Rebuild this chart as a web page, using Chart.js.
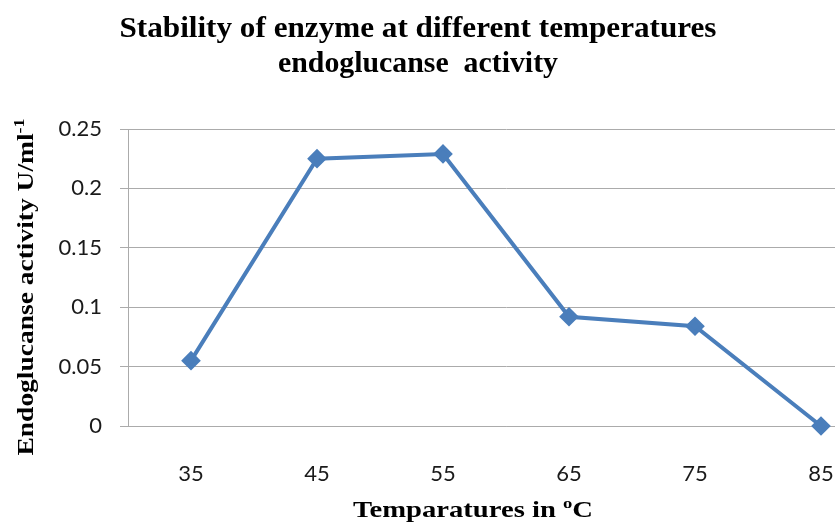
<!DOCTYPE html>
<html>
<head>
<meta charset="utf-8">
<script src="https://cdn.jsdelivr.net/npm/chart.js@4"></script>
<style>
    html, body { margin: 0; padding: 0; background: #fff; overflow: hidden; }
    #wrap { width: 835px; height: 522px; overflow: hidden; position: relative; }
    canvas { display: block; }
</style>
</head>
<body>
<div id="wrap"><canvas id="chart" width="900" height="522" style="width:900px;height:522px"></canvas></div>
<script>
// data
const temperatures = ['35', '45', '55', '65', '75', '85'];
const activity = [0.055, 0.225, 0.229, 0.092, 0.084, 0.0];
const yTicks = [0, 0.05, 0.1, 0.15, 0.2, 0.25];

const titleLines = ['Stability of enzyme at different temperatures', 'endoglucanse  activity'];
const yLabel = [{ t: 'Endoglucanse activity U/ml' }, { t: '-1', sup: true }];
const xLabel = [{ t: 'Temparatures in ' }, { t: 'o', sup: true }, { t: 'C' }];

const lineBlue = '#4A7EBB';
const gridGray = '#ababab';

// draws bold serif text parts (with superscripts), squeezed to a given width
function drawRich(ctx, parts, cx, baseY, size, targetW) {
    const fontOf = p => 'bold ' + (p.sup ? Math.round(size * 0.65) : size) + 'px "Liberation Serif", "DejaVu Serif", serif';
    let total = 0;
    parts.forEach(p => { ctx.font = fontOf(p); p.w = ctx.measureText(p.t).width; total += p.w; });
    const k = targetW ? targetW / total : 1;
    ctx.save();
    ctx.translate(cx, baseY);
    ctx.scale(k, 1);
    ctx.fillStyle = '#000';
    ctx.textBaseline = 'alphabetic';
    ctx.textAlign = 'left';
    let x = -total / 2;
    parts.forEach(p => {
        ctx.font = fontOf(p);
        ctx.fillText(p.t, x, p.sup ? -size * 0.4 : 0);
        x += p.w;
    });
    ctx.restore();
}

const labelsPlugin = {
    id: 'labels',
    afterDraw(chart) {
        const ctx = chart.ctx;
        drawRich(ctx, [{ t: titleLines[0] }], 418, 37, 29, 597);
        drawRich(ctx, [{ t: titleLines[1] }], 418, 72, 29, 280);
        drawRich(ctx, xLabel, 473, 517, 23, 240);
        ctx.save();
        ctx.translate(33, 287);
        ctx.rotate(-Math.PI / 2);
        drawRich(ctx, yLabel, 0, 0, 23, 337);
        ctx.restore();
    }
};

const tickFont = { family: 'Lato, "Open Sans", sans-serif', size: 22 };

new Chart(document.getElementById('chart'), {
    type: 'line',
    data: {
        labels: temperatures,
        datasets: [{
            data: activity,
            borderColor: lineBlue,
            backgroundColor: lineBlue,
            borderWidth: 4,
            pointStyle: 'rectRot',
            pointRadius: 7,
            pointBackgroundColor: lineBlue,
            pointBorderColor: lineBlue,
            tension: 0,
            clip: false
        }]
    },
    options: {
        responsive: false,
        animation: false,
        layout: { padding: { top: 129, right: 16, left: 0, bottom: 0 } },
        plugins: {
            legend: { display: false },
            title: { display: false },
            tooltip: { enabled: false }
        },
        scales: {
            x: {
                offset: true,
                grid: { display: false },
                border: { display: true, color: gridGray, width: 1 },
                ticks: { color: '#1a1a1a', font: tickFont, padding: 27 },
                afterFit: s => { s.height = 96; }
            },
            y: {
                min: 0,
                max: 0.25,
                afterBuildTicks: s => { s.ticks = yTicks.map(v => ({ value: v })); },
                grid: { color: gridGray, tickLength: 8, drawTicks: true },
                border: { display: true, color: gridGray, width: 1 },
                ticks: {
                    color: '#1a1a1a',
                    font: tickFont,
                    padding: 18,
                    callback: v => String(Number(v.toFixed(2)))
                },
                afterFit: s => { s.width = 128; }
            }
        }
    },
    plugins: [labelsPlugin]
});
</script>
</body>
</html>
